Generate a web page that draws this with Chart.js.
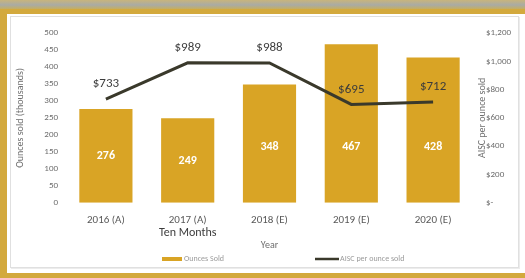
<!DOCTYPE html>
<html>
<head>
<meta charset="utf-8">
<script src="https://cdn.jsdelivr.net/npm/chart.js@4.4.1/dist/chart.umd.min.js"></script>
<style>
  html, body { margin: 0; padding: 0; }
  body { width: 525px; height: 278px; position: relative; overflow: hidden; background: #d3a93d; font-family: Calibri, Carlito, "Liberation Sans", sans-serif; }
  #topstrip { position: absolute; left: 0; top: 0; width: 525px; height: 9px; background: linear-gradient(#c8b47c, #a9aba5 55%, #c4ae62); }
  #panel { position: absolute; left: 7px; top: 14px; width: 518px; height: 259px; background: #ffffff; }
  #inner { position: absolute; left: 10px; top: 16px; width: 507px; height: 250px; border: 1px solid #e0e0e0; box-shadow: 1px 1px 0 #ececec; }
  #wrap { position: absolute; left: 0; top: 0; width: 525px; height: 278px; }
</style>
</head>
<body>
<div id="topstrip"></div>
<div id="panel"></div>
<div id="inner"></div>
<div id="wrap"><canvas id="mineChart"></canvas></div>
<script>
// Chart data
const years = ['2016 (A)', '2017 (A)', '2018 (E)', '2019 (E)', '2020 (E)'];
const yearNotes = ['', 'Ten Months', '', '', ''];
const ouncesSold = [276, 249, 348, 467, 428];
const aiscPerOunce = [733, 989, 988, 695, 712];
const ounceTicks = [0, 500, 50];      // min, max, step
const aiscTicks = [0, 1200, 200];     // min, max, step

const GOLD = '#d9a425';
const LINE = '#3a392b';
const TEXT = '#6e6e6e';

// Draws value labels, the right axis title, the "Ten Months" note and the legend
const annotations = {
  id: 'annotations',
  afterDatasetsDraw(chart) {
    const ctx = chart.ctx;
    const y = chart.scales.y;
    const area = chart.chartArea;
    ctx.save();

    // bar values (white, inside bars)
    const barMeta = chart.getDatasetMeta(0);
    ctx.fillStyle = '#ffffff';
    ctx.font = 'bold 12px Carlito, "Liberation Sans", sans-serif';
    ctx.textAlign = 'center';
    ctx.textBaseline = 'middle';
    const floorY = y.getPixelForValue(165);
    barMeta.data.forEach((bar, i) => {
      const mid = (bar.y + bar.base) / 2;
      ctx.fillText(String(ouncesSold[i]), bar.x, Math.max(mid, floorY));
    });

    // line values
    const lineMeta = chart.getDatasetMeta(1);
    ctx.fillStyle = '#3c3c3c';
    ctx.font = '13px Carlito, "Liberation Sans", sans-serif';
    lineMeta.data.forEach((pt, i) => {
      ctx.fillText('$' + aiscPerOunce[i], pt.x, pt.y - 15);
    });

    // note under x labels
    const x = chart.scales.x;
    ctx.fillStyle = '#3c3c3c';
    ctx.font = '12px Carlito, "Liberation Sans", sans-serif';
    yearNotes.forEach((note, i) => {
      if (note) ctx.fillText(note, x.getPixelForValue(i), 233);
    });

    // right axis title, reading bottom to top
    ctx.fillStyle = TEXT;
    ctx.font = '10px Carlito, "Liberation Sans", sans-serif';
    ctx.translate(482, (area.top + area.bottom) / 2);
    ctx.rotate(-Math.PI / 2);
    ctx.fillText('AISC per ounce sold', 0, 0);
    ctx.setTransform(1, 0, 0, 1, 0, 0);

    // legend
    ctx.fillStyle = GOLD;
    ctx.fillRect(162, 257, 20, 4);
    ctx.strokeStyle = LINE;
    ctx.lineWidth = 2.5;
    ctx.beginPath();
    ctx.moveTo(315, 259);
    ctx.lineTo(339, 259);
    ctx.stroke();
    ctx.fillStyle = '#9a9a9a';
    ctx.font = '8px Carlito, "Liberation Sans", sans-serif';
    ctx.textAlign = 'left';
    ctx.fillText('Ounces Sold', 184, 259);
    ctx.fillText('AISC per ounce sold', 340, 259);

    ctx.restore();
  }
};

const tickFont = { family: 'Carlito, "Liberation Sans", sans-serif', size: 10 };

new Chart(document.getElementById('mineChart'), {
  type: 'bar',
  data: {
    labels: years,
    datasets: [{
      label: 'Ounces Sold',
      data: ouncesSold,
      backgroundColor: GOLD,
      borderWidth: 0,
      categoryPercentage: 1,
      barPercentage: 0.65,
      yAxisID: 'y',
      order: 2
    }, {
      type: 'line',
      label: 'AISC per ounce sold',
      data: aiscPerOunce,
      borderColor: LINE,
      borderWidth: 3,
      pointRadius: 0,
      tension: 0,
      yAxisID: 'y1',
      order: 1
    }]
  },
  options: {
    responsive: true,
    maintainAspectRatio: false,
    animation: false,
    layout: { padding: { top: 33, bottom: 27, left: 0, right: 0 } },
    plugins: {
      legend: { display: false },
      tooltip: { enabled: false }
    },
    scales: {
      x: {
        grid: { display: false, drawTicks: false },
        border: { display: false },
        ticks: { color: '#595959', font: { ...tickFont, size: 11 }, padding: 11, maxRotation: 0 },
        title: { display: true, text: 'Year', color: TEXT, font: tickFont, padding: { top: 1, bottom: 0 } }
      },
      y: {
        position: 'left',
        min: ounceTicks[0],
        max: ounceTicks[1],
        grid: { display: false, drawTicks: false },
        border: { display: false },
        ticks: { stepSize: ounceTicks[2], color: TEXT, font: { ...tickFont, size: 9 }, padding: 7 },
        title: { display: true, text: 'Ounces sold (thousands)', color: TEXT, font: tickFont, padding: { top: 14, bottom: 0 } },
        afterFit(scale) { scale.width = 65; }
      },
      y1: {
        position: 'right',
        min: aiscTicks[0],
        max: aiscTicks[1],
        grid: { display: false, drawTicks: false },
        border: { display: false },
        ticks: {
          stepSize: aiscTicks[2],
          color: TEXT,
          font: { ...tickFont, size: 9 },
          padding: 12,
          callback: v => v === 0 ? '$-' : '$' + v.toLocaleString('en-US')
        },
        afterFit(scale) { scale.width = 51; }
      }
    }
  },
  plugins: [annotations]
});
</script>
</body>
</html>
